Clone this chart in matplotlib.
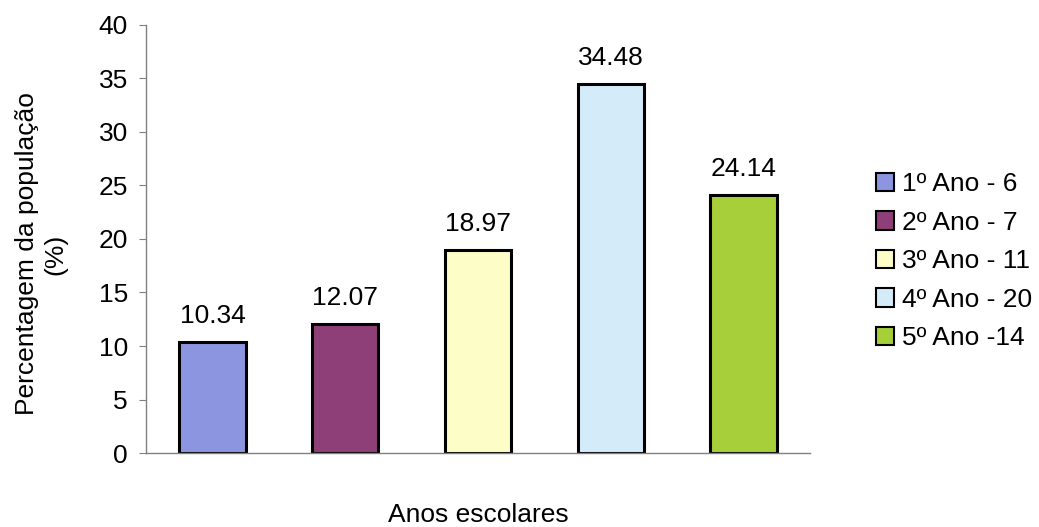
import matplotlib.pyplot as plt
from matplotlib.patches import Patch

# data
anos = ['1º Ano - 6', '2º Ano - 7', '3º Ano - 11', '4º Ano - 20', '5º Ano -14']
percentagens = [10.34, 12.07, 18.97, 34.48, 24.14]
cores = ['#8c96e0', '#8e3f78', '#fdfdc8', '#d4ecfa', '#a6cf3a']

plt.rcParams['font.family'] = ['Liberation Sans', 'DejaVu Sans']
fs = 19

fig = plt.figure(figsize=(10.39, 5.27), dpi=100, facecolor='white')
ax = fig.add_axes([0.1405, 0.1404, 0.6391, 0.8122])

x = range(len(anos))
bars = ax.bar(x, percentagens, width=0.5, color=cores,
              edgecolor='black', linewidth=2.2)

# value labels above the bars
for b, v in zip(bars, percentagens):
    ax.annotate(f'{v:.2f}', (b.get_x() + b.get_width() / 2, v),
                xytext=(0, 10), textcoords='offset points',
                ha='center', va='bottom', fontsize=fs)

ax.set_xlim(-0.5, len(anos) - 0.5)
ax.set_ylim(0, 40)
ax.set_yticks(range(0, 41, 5))
ax.set_xticks([])
ax.tick_params(axis='y', labelsize=fs, length=5, color='#808080', pad=8)

for s in ['top', 'right']:
    ax.spines[s].set_visible(False)
for s in ['left', 'bottom']:
    ax.spines[s].set_color('#808080')
    ax.spines[s].set_linewidth(1)

ax.set_ylabel('Percentagem da população\n(%)', fontsize=fs, linespacing=1.25,
              va='center')
ax.yaxis.set_label_coords(-0.158, 0.465)
ax.set_xlabel('Anos escolares', fontsize=fs, va='center')
ax.xaxis.set_label_coords(0.5, -0.145)

handles = [Patch(facecolor=c, edgecolor='black', linewidth=1.5, label=a)
           for c, a in zip(cores, anos)]
fig.legend(handles=handles, loc='center left', bbox_to_anchor=(0.843, 0.504),
           frameon=False, fontsize=fs, handlelength=0.7, handleheight=0.7,
           handletextpad=0.3, labelspacing=0.55, borderaxespad=0, borderpad=0)

plt.savefig('out.png', dpi=100, facecolor='white')
plt.close()
